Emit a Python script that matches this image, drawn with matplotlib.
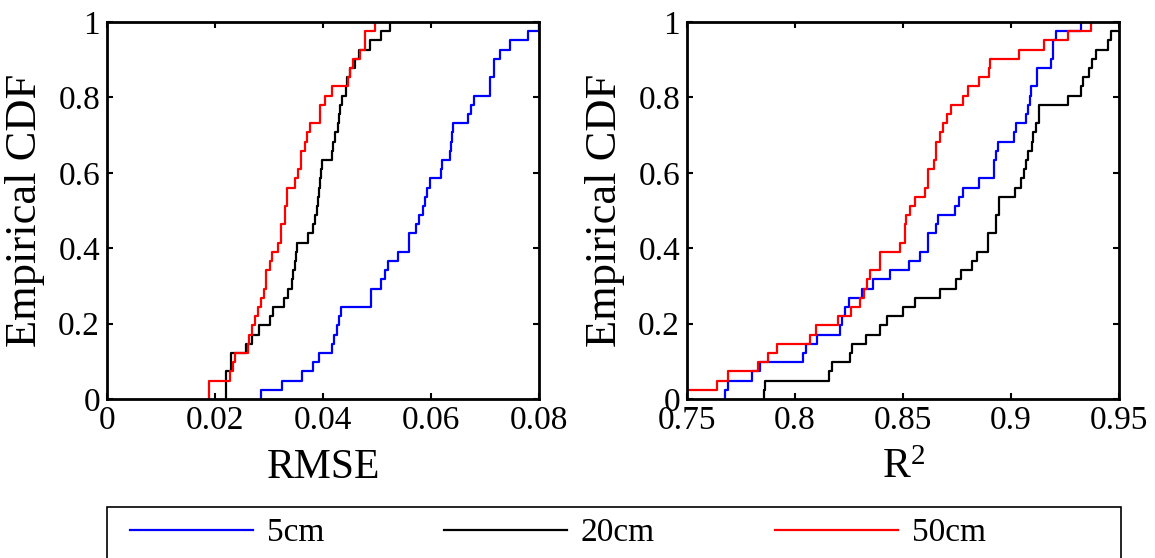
import numpy as np
import matplotlib
matplotlib.use("Agg")
import matplotlib.pyplot as plt
from matplotlib.patches import Rectangle

plt.rcParams['font.family'] = ['Liberation Serif', 'DejaVu Serif']
plt.rcParams['mathtext.fontset'] = 'custom'
plt.rcParams['mathtext.rm'] = 'Liberation Serif'
plt.rcParams['mathtext.it'] = 'Liberation Serif:italic'

# sorted samples (41 per series)
rmse_5cm = [0.0285, 0.0324, 0.0362, 0.0382, 0.0393, 0.0417, 0.0421, 0.0425, 0.0430, 0.0433,
            0.0489, 0.0489, 0.0507, 0.0515, 0.0521, 0.0538, 0.0559, 0.0559, 0.0572, 0.0577,
            0.0586, 0.0589, 0.0592, 0.0599, 0.0619, 0.0621, 0.0635, 0.0637, 0.0639, 0.0641,
            0.0669, 0.0674, 0.0680, 0.0709, 0.0709, 0.0717, 0.0717, 0.0728, 0.0746, 0.0780,
            0.0800]
rmse_20cm = [0.0220, 0.0220, 0.0220, 0.0230, 0.0230, 0.0257, 0.0268, 0.0282, 0.0302, 0.0308,
             0.0327, 0.0336, 0.0342, 0.0345, 0.0348, 0.0350, 0.0351, 0.0373, 0.0382, 0.0385,
             0.0388, 0.0390, 0.0393, 0.0394, 0.0396, 0.0399, 0.0416, 0.0419, 0.0422, 0.0428,
             0.0430, 0.0431, 0.0436, 0.0443, 0.0445, 0.0450, 0.0459, 0.0467, 0.0487, 0.0507,
             0.0524]
rmse_50cm = [0.0188, 0.0188, 0.0228, 0.0233, 0.0237, 0.0261, 0.0263, 0.0268, 0.0274, 0.0280,
             0.0286, 0.0290, 0.0294, 0.0294, 0.0302, 0.0305, 0.0317, 0.0323, 0.0323, 0.0330,
             0.0330, 0.0333, 0.0333, 0.0348, 0.0354, 0.0359, 0.0359, 0.0367, 0.0370, 0.0376,
             0.0394, 0.0394, 0.0404, 0.0416, 0.0447, 0.0450, 0.0456, 0.0469, 0.0478, 0.0478,
             0.0496]

r2_5cm = [0.7674, 0.7688, 0.7800, 0.7838, 0.8036, 0.8049, 0.8100, 0.8208, 0.8216, 0.8231,
          0.8251, 0.8312, 0.8362, 0.8439, 0.8528, 0.8577, 0.8615, 0.8615, 0.8654, 0.8662,
          0.8739, 0.8759, 0.8780, 0.8851, 0.8919, 0.8919, 0.8931, 0.8939, 0.9016, 0.9023,
          0.9069, 0.9077, 0.9088, 0.9093, 0.9119, 0.9119, 0.9185, 0.9193, 0.9193, 0.9208,
          0.9323]
r2_20cm = [0.7857, 0.7862, 0.8159, 0.8169, 0.8254, 0.8262, 0.8331, 0.8395, 0.8428, 0.8500,
           0.8557, 0.8669, 0.8746, 0.8769, 0.8819, 0.8842, 0.8892, 0.8892, 0.8931, 0.8931,
           0.8943, 0.8943, 0.9020, 0.9046, 0.9062, 0.9069, 0.9080, 0.9097, 0.9103, 0.9116,
           0.9131, 0.9131, 0.9262, 0.9323, 0.9334, 0.9359, 0.9377, 0.9393, 0.9451, 0.9462,
           0.9520]
r2_50cm = [0.7450, 0.7638, 0.7688, 0.7831, 0.7877, 0.7915, 0.8069, 0.8095, 0.8200, 0.8259,
           0.8300, 0.8319, 0.8335, 0.8346, 0.8392, 0.8392, 0.8485, 0.8507, 0.8507, 0.8516,
           0.8531, 0.8554, 0.8600, 0.8616, 0.8616, 0.8642, 0.8654, 0.8654, 0.8669, 0.8685,
           0.8703, 0.8723, 0.8777, 0.8800, 0.8851, 0.8897, 0.8903, 0.9036, 0.9154, 0.9266,
           0.9370]

series_labels = ['5cm', '20cm', '50cm']
series_colors = ['#0000ff', '#000000', '#ff0000']

rmse_ticks = [0, 0.02, 0.04, 0.06, 0.08]
rmse_ticklabels = ['0', '0.02', '0.04', '0.06', '0.08']
r2_ticks = [0.75, 0.8, 0.85, 0.9, 0.95]
r2_ticklabels = ['0.75', '0.8', '0.85', '0.9', '0.95']
cdf_ticks = [0, 0.2, 0.4, 0.6, 0.8, 1]
cdf_ticklabels = ['0', '0.2', '0.4', '0.6', '0.8', '1']


def ecdf(ax, samples, color, label):
    # stairs from the smallest to the largest sample, like cdfplot
    s = np.sort(samples)
    n = len(s)
    xs = np.concatenate([[s[0]], s])
    ys = np.concatenate([[0], np.arange(1, n + 1) / n])
    line, = ax.step(xs, ys, where='post', color=color, lw=1.6, label=label)
    return line


W, H = 1155, 558
fig = plt.figure(figsize=(W / 100, H / 100), dpi=100)
ax1 = fig.add_axes([107 / W, 1 - 399 / H, 432 / W, 377 / H])
ax2 = fig.add_axes([687 / W, 1 - 399 / H, 432 / W, 377 / H])

handles = []
for data, c, lab in zip([rmse_5cm, rmse_20cm, rmse_50cm], series_colors, series_labels):
    handles.append(ecdf(ax1, data, c, lab))
for data, c, lab in zip([r2_5cm, r2_20cm, r2_50cm], series_colors, series_labels):
    ecdf(ax2, data, c, lab)

ax1.set_xlim(0, 0.08)
ax1.set_xticks(rmse_ticks)
ax1.set_xticklabels(rmse_ticklabels)
ax1.set_xlabel('RMSE', fontsize=30)

ax2.set_xlim(0.75, 0.95)
ax2.set_xticks(r2_ticks)
ax2.set_xticklabels(r2_ticklabels)
ax2.set_xlabel(r'R$^{2}$', fontsize=30)

for ax in (ax1, ax2):
    ax.set_ylim(0, 1)
    ax.set_yticks(cdf_ticks)
    ax.set_yticklabels(cdf_ticklabels)
    ax.set_ylabel('Empirical CDF', fontsize=32)
    ax.yaxis.set_label_coords(-0.1435, 0.5)
    ax.xaxis.set_label_coords(0.5, -0.13)
    ax.tick_params(direction='in', top=True, right=True, length=4, width=1.5,
                   labelsize=24, pad=5)
    for sp in ax.spines.values():
        sp.set_linewidth(2)

fig.legend(handles, series_labels, loc='center left',
           bbox_to_anchor=(130 / W, 1 - 533 / H), ncol=3, frameon=False,
           fontsize=24, handlelength=3.7, handletextpad=0.4, columnspacing=3.6,
           borderpad=0, borderaxespad=0)
fig.add_artist(Rectangle((107 / W, -0.05), (1121 - 107) / W, 0.05 + 1 - 507 / H,
                         transform=fig.transFigure, fill=False, lw=1.2, ec='k'))

fig.savefig('out.png', dpi=100)
